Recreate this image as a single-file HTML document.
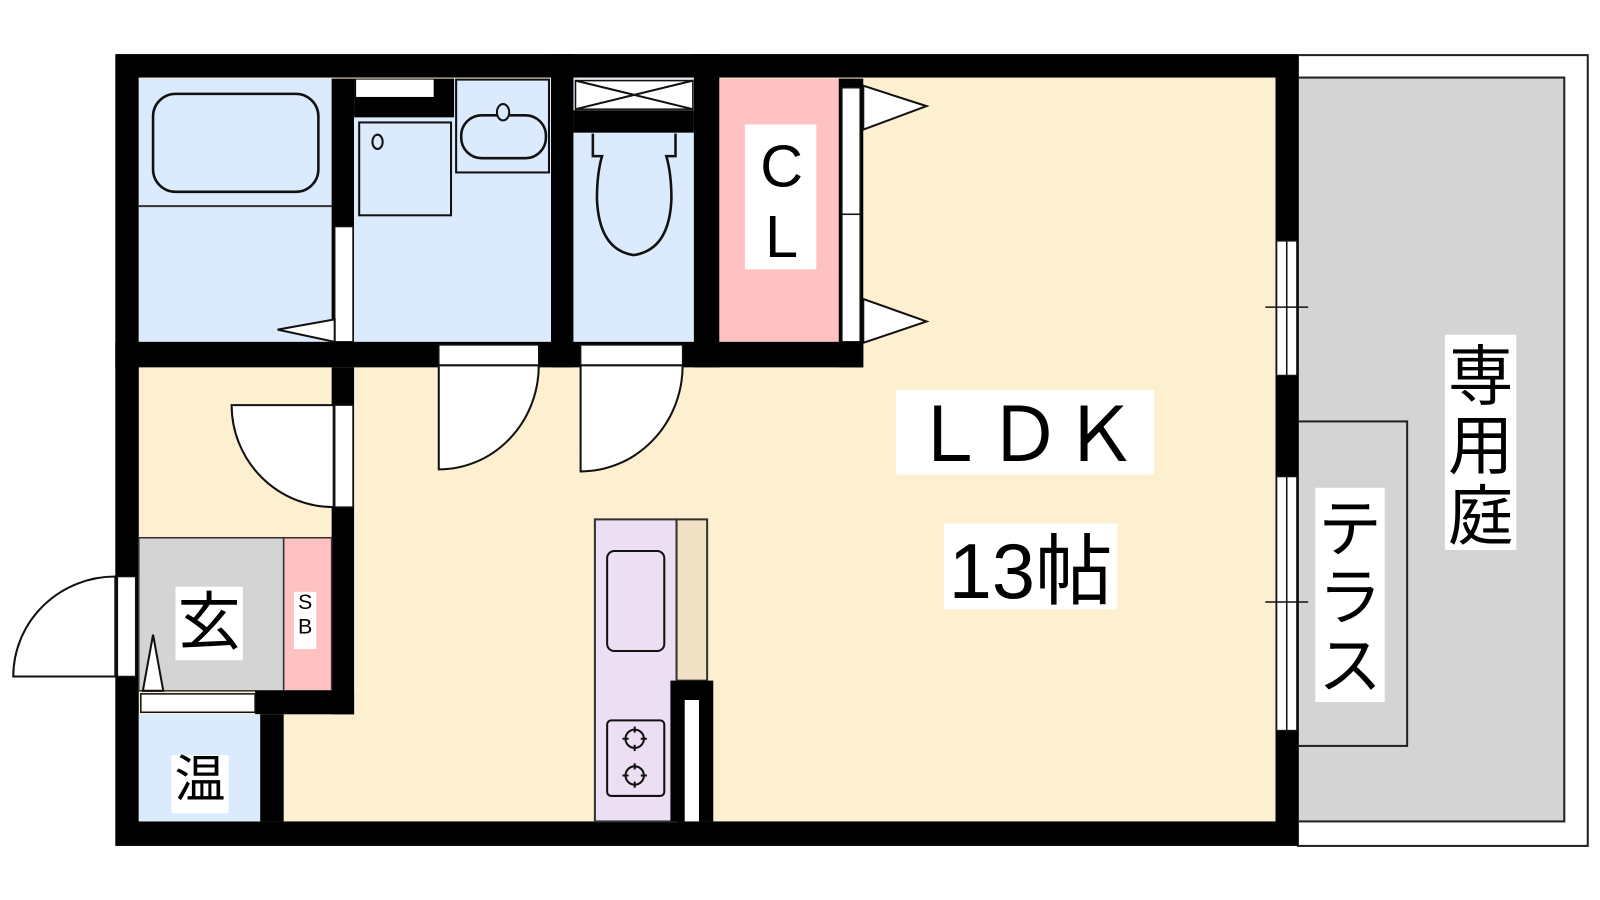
<!DOCTYPE html>
<html><head><meta charset="utf-8"><style>html,body{margin:0;padding:0;background:#fff}svg{display:block}text{font-family:"Liberation Sans","Noto Sans CJK JP",sans-serif}</style></head>
<body>
<svg width="1600" height="900" viewBox="0 0 1568 882" preserveAspectRatio="none" xmlns="http://www.w3.org/2000/svg">
<rect width="1568" height="882" fill="#fff"/>
<rect x="1272" y="54" width="284" height="775" fill="#fff" stroke="#222" stroke-width="2"/>
<rect x="1272" y="76" width="261" height="729" fill="#d4d4d4" stroke="#222" stroke-width="2"/>
<rect x="1272" y="413" width="107" height="318" fill="#d4d4d4" stroke="#222" stroke-width="2"/>
<rect x="113" y="53" width="1159" height="776" fill="#000"/>
<rect x="136" y="76" width="1114" height="729" fill="#fdf0d0"/>
<rect x="136" y="77" width="189" height="258" fill="#dbeafc"/>
<line x1="136" y1="202" x2="325" y2="202" stroke="#333" stroke-width="2"/>
<rect x="150" y="92" width="162" height="96" rx="22" fill="none" stroke="#111" stroke-width="2.5"/>
<rect x="325" y="77" width="22" height="258" fill="#000"/>
<rect x="328" y="222" width="18" height="113" fill="#fff" stroke="#111" stroke-width="1.5"/>
<polygon points="328,313 272,323 328,335" fill="#fff" stroke="#111" stroke-width="2"/>
<rect x="347" y="77" width="193" height="258" fill="#dbeafc"/>
<rect x="347" y="77" width="98" height="38" fill="#000"/>
<rect x="349" y="78" width="76" height="17" fill="#fff"/>
<rect x="352" y="120" width="90" height="91" fill="none" stroke="#111" stroke-width="2"/>
<ellipse cx="370" cy="139" rx="5" ry="7" fill="none" stroke="#111" stroke-width="2"/>
<rect x="447" y="78" width="91" height="91" fill="#dbeafc" stroke="#111" stroke-width="2"/>
<rect x="452" y="113" width="83" height="42" rx="20" fill="none" stroke="#111" stroke-width="2.5"/>
<ellipse cx="493" cy="110" rx="6" ry="8" fill="#dbeafc" stroke="#111" stroke-width="2"/>
<rect x="540" y="53" width="22" height="307" fill="#000"/>
<rect x="562" y="77" width="118" height="258" fill="#dbeafc"/>
<rect x="562" y="108" width="118" height="22" fill="#000"/>
<rect x="564" y="79" width="115" height="28" fill="#fff" stroke="#111" stroke-width="1.5"/>
<line x1="564" y1="79" x2="679" y2="107" stroke="#111" stroke-width="2"/>
<line x1="564" y1="107" x2="679" y2="79" stroke="#111" stroke-width="2"/>
<path d="M581,131 L581,153 L590,153 Q585,170 585,195 Q587,245 621,250 Q656,245 658,195 Q658,170 653,153 L662,153 L662,131" fill="#dbeafc" stroke="#111" stroke-width="2.5"/>
<rect x="680" y="53" width="25" height="307" fill="#000"/>
<rect x="705" y="77" width="117" height="258" fill="#ffc1c1"/>
<rect x="730" y="122" width="70" height="142" fill="#fff"/>
<text x="766" y="183" font-size="58" text-anchor="middle">C</text>
<text x="766" y="252" font-size="58" text-anchor="middle">L</text>
<rect x="822" y="77" width="24" height="283" fill="#000"/>
<rect x="825" y="86" width="18" height="124" fill="#fff" stroke="#111" stroke-width="1.5"/>
<rect x="825" y="210" width="18" height="125" fill="#fff" stroke="#111" stroke-width="1.5"/>
<polygon points="846,84 908,104 846,127" fill="#fff" stroke="#111" stroke-width="2"/>
<polygon points="846,293 908,315 846,336" fill="#fff" stroke="#111" stroke-width="2"/>
<rect x="113" y="335" width="733" height="25" fill="#000"/>
<rect x="430" y="338" width="98" height="20" fill="#fff" stroke="#111" stroke-width="1.5"/>
<rect x="569" y="338" width="100" height="20" fill="#fff" stroke="#111" stroke-width="1.5"/>
<path d="M430,358 L430,460 A98,102 0 0 0 528,358 Z" fill="#fff" stroke="#111" stroke-width="2"/>
<path d="M569,358 L569,462 A100,104 0 0 0 669,358 Z" fill="#fff" stroke="#111" stroke-width="2"/>
<rect x="325" y="360" width="22" height="340" fill="#000"/>
<rect x="328" y="397" width="18" height="100" fill="#fff" stroke="#111" stroke-width="1.5"/>
<path d="M327,397 L227,397 A100,100 0 0 0 327,497 Z" fill="#fff" stroke="#111" stroke-width="2"/>
<rect x="136" y="527" width="142" height="150" fill="#d4d4d4" stroke="#333" stroke-width="1.5"/>
<rect x="278" y="527" width="47" height="150" fill="#ffc1c1" stroke="#333" stroke-width="1.5"/>
<rect x="172" y="575" width="66" height="72" fill="#fff"/>
<text x="205" y="631" font-size="62" text-anchor="middle">玄</text>
<rect x="288" y="580" width="22" height="56" fill="#fff"/>
<text x="299" y="597" font-size="21" text-anchor="middle">S</text>
<text x="299" y="621" font-size="21" text-anchor="middle">B</text>
<polygon points="150,622 140,677 160,677" fill="#fff" stroke="#111" stroke-width="2"/>
<rect x="250" y="677" width="97" height="23" fill="#000"/>
<rect x="138" y="680" width="112" height="18" fill="#fff" stroke="#111" stroke-width="1.5"/>
<rect x="136" y="700" width="119" height="105" fill="#dbeafc"/>
<rect x="255" y="700" width="23" height="105" fill="#000"/>
<rect x="168" y="740" width="56" height="57" fill="#fff"/>
<text x="196" y="781" font-size="50" text-anchor="middle">温</text>
<rect x="115" y="565" width="18" height="98" fill="#fff" stroke="#111" stroke-width="1.5"/>
<path d="M113,663 L13,663 A100,98 0 0 1 113,565 Z" fill="#fff" stroke="#111" stroke-width="2"/>
<rect x="583" y="509" width="80" height="296" fill="#ecdff4" stroke="#333" stroke-width="2"/>
<rect x="663" y="509" width="30" height="158" fill="#f0e0c4" stroke="#333" stroke-width="2"/>
<rect x="657" y="667" width="42" height="138" fill="#000"/>
<rect x="671" y="686" width="14" height="119" fill="#fff"/>
<rect x="595" y="540" width="56" height="98" rx="7" fill="none" stroke="#111" stroke-width="2"/>
<rect x="595" y="706" width="56" height="74" rx="4" fill="none" stroke="#111" stroke-width="2"/>
<g fill="none" stroke="#111" stroke-width="2">
<circle cx="622" cy="724" r="9"/><line x1="622" y1="712" x2="622" y2="736"/><line x1="610" y1="724" x2="634" y2="724"/>
<circle cx="622" cy="760" r="9"/><line x1="622" y1="748" x2="622" y2="772"/><line x1="610" y1="760" x2="634" y2="760"/>
</g>
<circle cx="622" cy="724" r="6" fill="#ecdff4"/><circle cx="622" cy="760" r="6" fill="#ecdff4"/>
<rect x="878" y="382" width="253" height="83" fill="#fff"/>
<text x="1004" y="452" font-size="74" text-anchor="middle">ＬＤＫ</text>
<rect x="925" y="513" width="170" height="84" fill="#fff"/>
<text x="1010" y="586" font-size="76" text-anchor="middle">13帖</text>
<rect x="1251" y="236" width="20" height="132" fill="#fff" stroke="#111" stroke-width="1.5"/>
<line x1="1261" y1="236" x2="1261" y2="368" stroke="#111" stroke-width="1.5"/>
<rect x="1251" y="467" width="20" height="249" fill="#fff" stroke="#111" stroke-width="1.5"/>
<line x1="1261" y1="467" x2="1261" y2="716" stroke="#111" stroke-width="1.5"/>
<line x1="1240" y1="301" x2="1282" y2="301" stroke="#111" stroke-width="1.5"/>
<line x1="1240" y1="590" x2="1282" y2="590" stroke="#111" stroke-width="1.5"/>
<rect x="1289" y="478" width="68" height="210" fill="#fff"/>
<text x="1323" y="540" font-size="62" text-anchor="middle">テ</text>
<text x="1323" y="607" font-size="62" text-anchor="middle">ラ</text>
<text x="1323" y="674" font-size="62" text-anchor="middle">ス</text>
<rect x="1416" y="328" width="70" height="211" fill="#fff"/>
<text x="1451" y="391" font-size="64" text-anchor="middle">専</text>
<text x="1451" y="459" font-size="64" text-anchor="middle">用</text>
<text x="1451" y="528" font-size="64" text-anchor="middle">庭</text>
</svg>
</body></html>
